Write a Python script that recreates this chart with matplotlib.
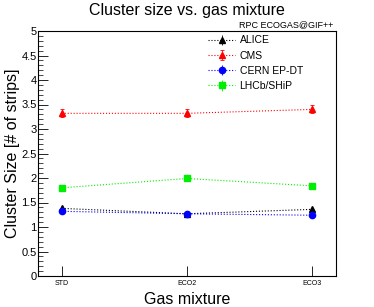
import matplotlib
matplotlib.use("Agg")
import matplotlib.pyplot as plt
from matplotlib.ticker import MultipleLocator, FormatStrFormatter

plt.rcParams['font.family'] = ['Liberation Sans', 'DejaVu Sans']

mixtures = ['STD', 'ECO2', 'ECO3']
alice = [1.38, 1.27, 1.36]
cms = [3.32, 3.32, 3.40]
cms_err = [0.08, 0.08, 0.08]
cern = [1.32, 1.27, 1.24]
lhcb = [1.80, 1.99, 1.84]

fig = plt.figure(figsize=(3.74, 3.07), dpi=100)
ax = fig.add_axes([38/374, 1 - 276/307, (336-38)/374, (276-31)/307])

x = range(len(mixtures))
ax.errorbar(x, alice, yerr=[0.03]*3, color='black', marker='^', ms=4.5, ls=':', lw=0.8,
            elinewidth=0.6, capsize=0, label='ALICE')
ax.errorbar(x, cms, yerr=cms_err, color='red', marker='^', ms=4.5, ls=':', lw=0.8,
            elinewidth=0.6, capsize=1.5, capthick=0.6, label='CMS')
ax.errorbar(x, cern, yerr=[0.02]*3, color='blue', marker='o', ms=4.5, ls=':', lw=0.8,
            elinewidth=0.6, capsize=0, label='CERN EP-DT')
ax.errorbar(x, lhcb, yerr=[0.02]*3, color='#00ee00', marker='s', ms=4.5, ls=':', lw=0.8,
            elinewidth=0.6, capsize=0, label='LHCb/SHiP')

ax.set_xlim(-0.19, 2.19)
ax.set_ylim(0, 5)
ax.set_xticks(list(x))
ax.set_xticklabels(mixtures, fontsize=5)
ax.yaxis.set_major_locator(MultipleLocator(0.5))
ax.yaxis.set_minor_locator(MultipleLocator(0.1))
ax.yaxis.set_major_formatter(FormatStrFormatter('%g'))
ax.tick_params(axis='y', which='major', direction='in', length=7, width=0.6, labelsize=8, pad=1)
ax.tick_params(axis='y', which='minor', direction='in', length=3.5, width=0.5)
ax.tick_params(axis='x', which='major', direction='in', length=7, width=0.6, pad=3)
for s in ax.spines.values():
    s.set_linewidth(0.8)

fig.text(13/374, 1 - 153/307, 'Cluster Size [# of strips]', ha='center', va='center',
         rotation=90, fontsize=11.5)
fig.text(187/374, 1 - 300/307, 'Gas mixture', ha='center', va='center', fontsize=11.5)
fig.text(187/374, 1 - 10/307, 'Cluster size vs. gas mixture', ha='center', va='center', fontsize=11.5)
fig.text(333/374, 1 - 25/307, 'RPC ECOGAS@GIF++', ha='right', va='center', fontsize=6.5)

ax.legend(loc='upper left', bbox_to_anchor=(0.54, 1.02), frameon=False, fontsize=7.5,
          handlelength=2.6, labelspacing=0.5, handletextpad=0.4)

fig.savefig('out.png', dpi=100)
